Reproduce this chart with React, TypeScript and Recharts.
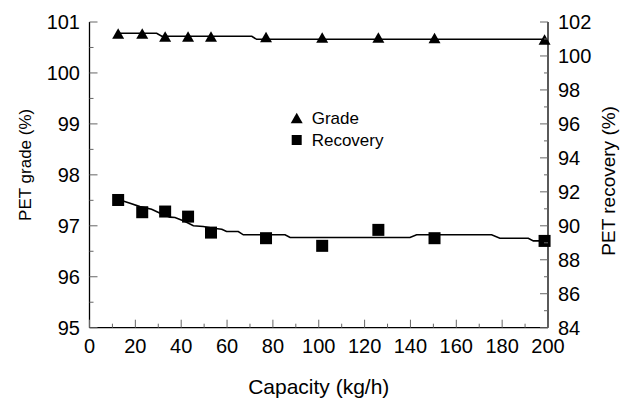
import React from 'react';
import { ComposedChart, Line, Scatter, XAxis, YAxis, Legend } from 'recharts';

// measured points
const capacity = [12.5, 23, 33, 43, 53, 77, 101.5, 126, 150.5, 198.5];
const grade = [100.77, 100.77, 100.71, 100.71, 100.71, 100.7, 100.69, 100.69, 100.68, 100.65];
const recovery = [91.52, 90.8, 90.84, 90.54, 89.6, 89.27, 88.82, 89.76, 89.27, 89.11];

// fitted curves
const gradeFitX = [13, 29.3, 31.5, 70.8, 72.9, 200];
const gradeFitY = [100.78, 100.78, 100.72, 100.72, 100.66, 100.66];
const recoveryFitX = [13.3, 17.7, 22, 27.1, 30.8, 35.1, 37.3, 41.7, 45.3, 49.6, 54, 57.7, 59.8, 64.9, 67.1, 85.3, 87.5, 139.8, 142.7, 175.4, 179, 191.4, 193.6, 200];
const recoveryFitY = [91.52, 91.33, 91.13, 90.98, 90.74, 90.51, 90.49, 90.25, 90.0, 89.96, 89.86, 89.8, 89.66, 89.66, 89.47, 89.47, 89.31, 89.31, 89.47, 89.47, 89.27, 89.27, 89.11, 89.11];

// ticks (majors get labels)
const xTicks = [0, 10, 20, 30, 40, 50, 60, 70, 80, 90, 100, 110, 120, 130, 140, 150, 160, 170, 180, 190, 200];
const gradeTicks = [95, 95.5, 96, 96.5, 97, 97.5, 98, 98.5, 99, 99.5, 100, 100.5, 101];
const recoveryTicks = [84, 85, 86, 87, 88, 89, 90, 91, 92, 93, 94, 95, 96, 97, 98, 99, 100, 101, 102];

const FONT = '"Liberation Sans", Arial, sans-serif';
const TICK_COLOR = '#666';

const zip = (xs: number[], ys: number[]) => xs.map((x, i) => ({ x, y: ys[i] }));
const gradePts = zip(capacity, grade);
const recoveryPts = zip(capacity, recovery);
const gradeFit = zip(gradeFitX, gradeFitY);
const recoveryFit = zip(recoveryFitX, recoveryFitY);

const Triangle = ({ cx, cy }: any) => (
  <polygon points={`${cx},${cy - 5.5} ${cx - 6},${cy + 5} ${cx + 6},${cy + 5}`} fill="#000" />
);

const Square = ({ cx, cy }: any) => (
  <rect x={cx - 6} y={cy - 6} width={12} height={12} fill="#000" />
);

const XTick = ({ x, y, payload }: any) => {
  const major = payload.value % 20 === 0;
  return (
    <g>
      <line x1={x} x2={x} y1={y} y2={y - (major ? 8 : 4)} stroke={TICK_COLOR} />
      {major && (
        <text x={x} y={y + 18} textAnchor="middle" dominantBaseline="central" fontSize={20} fontFamily={FONT} fill="#000">
          {payload.value}
        </text>
      )}
    </g>
  );
};

const LeftTick = ({ x, y, payload }: any) => {
  const major = Number.isInteger(payload.value);
  return (
    <g>
      <line x1={x} x2={x + (major ? 8 : 4)} y1={y} y2={y} stroke={TICK_COLOR} />
      {major && (
        <text x={x - 9.5} y={y} textAnchor="end" dominantBaseline="central" fontSize={20} fontFamily={FONT} fill="#000">
          {payload.value}
        </text>
      )}
    </g>
  );
};

const RightTick = ({ x, y, payload }: any) => {
  const major = payload.value % 2 === 0;
  return (
    <g>
      <line x1={x} x2={x - (major ? 8 : 4)} y1={y} y2={y} stroke={TICK_COLOR} />
      {major && (
        <text x={x + 10} y={y} textAnchor="start" dominantBaseline="central" fontSize={20} fontFamily={FONT} fill="#000">
          {payload.value}
        </text>
      )}
    </g>
  );
};

const LegendBox = () => (
  <svg width={130} height={44} style={{ display: 'block' }}>
    <polygon points="8.7,2.8 2.7,13.3 14.7,13.3" fill="#000" />
    <text x={23.7} y={8.3} dominantBaseline="central" fontSize={17} fontFamily={FONT} fill="#000">Grade</text>
    <rect x={3.7} y={25} width={10} height={10} fill="#000" />
    <text x={23.7} y={30} dominantBaseline="central" fontSize={17} fontFamily={FONT} fill="#000">Recovery</text>
  </svg>
);

export default function App() {
  return (
    <div style={{ width: 633, height: 399 }}>
      <style>{'body{margin:0}'}</style>
      <ComposedChart width={633} height={399} margin={{ top: 22, right: 0, bottom: 0, left: 0 }}>
        <XAxis
          dataKey="x"
          type="number"
          domain={[0, 200]}
          ticks={xTicks}
          interval={0}
          tickSize={0}
          tickMargin={0}
          tickLine={false}
          tick={<XTick />}
          height={71.3}
          axisLine={{ stroke: '#000', strokeWidth: 1.3 }}
          label={{
            content: ({ viewBox }: any) => (
              <text x={viewBox.x + viewBox.width / 2} y={viewBox.y + 59} textAnchor="middle" dominantBaseline="central" fontSize={21} fontFamily={FONT} fill="#000">
                Capacity (kg/h)
              </text>
            ),
          }}
        />
        <XAxis xAxisId="top" orientation="top" type="number" domain={[0, 200]} height={0} tick={false} tickLine={false} axisLine={{ stroke: '#000', strokeWidth: 1.2 }} />
        <YAxis
          yAxisId="left"
          type="number"
          domain={[95, 101]}
          ticks={gradeTicks}
          interval={0}
          tickSize={0}
          tickMargin={0}
          tickLine={false}
          tick={<LeftTick />}
          width={89.5}
          axisLine={{ stroke: '#000', strokeWidth: 1.3 }}
          label={{
            content: ({ viewBox }: any) => (
              <text transform={`translate(25,${viewBox.y + viewBox.height / 2 - 10}) rotate(-90)`} textAnchor="middle" dominantBaseline="central" fontSize={17} fontFamily={FONT} fill="#000">
                PET grade (%)
              </text>
            ),
          }}
        />
        <YAxis
          yAxisId="right"
          orientation="right"
          type="number"
          domain={[84, 102]}
          ticks={recoveryTicks}
          interval={0}
          tickSize={0}
          tickMargin={0}
          tickLine={false}
          tick={<RightTick />}
          width={85}
          axisLine={{ stroke: '#000', strokeWidth: 1.3 }}
          label={{
            content: ({ viewBox }: any) => (
              <text transform={`translate(608.5,${viewBox.y + viewBox.height / 2 + 6}) rotate(-90)`} textAnchor="middle" dominantBaseline="central" fontSize={19} fontFamily={FONT} fill="#000">
                PET recovery (%)
              </text>
            ),
          }}
        />
        <Legend
          layout="vertical"
          align="center"
          verticalAlign="middle"
          wrapperStyle={{ left: 288, top: 110, width: 130 }}
          content={<LegendBox />}
        />
        <Line yAxisId="left" data={gradeFit} dataKey="y" type="linear" stroke="#000" strokeWidth={1.6} dot={false} isAnimationActive={false} legendType="none" />
        <Line yAxisId="right" data={recoveryFit} dataKey="y" type="linear" stroke="#000" strokeWidth={1.6} dot={false} isAnimationActive={false} legendType="none" />
        <Scatter yAxisId="left" name="Grade" data={gradePts} dataKey="y" shape={<Triangle />} isAnimationActive={false} />
        <Scatter yAxisId="right" name="Recovery" data={recoveryPts} dataKey="y" shape={<Square />} isAnimationActive={false} />
      </ComposedChart>
    </div>
  );
}
